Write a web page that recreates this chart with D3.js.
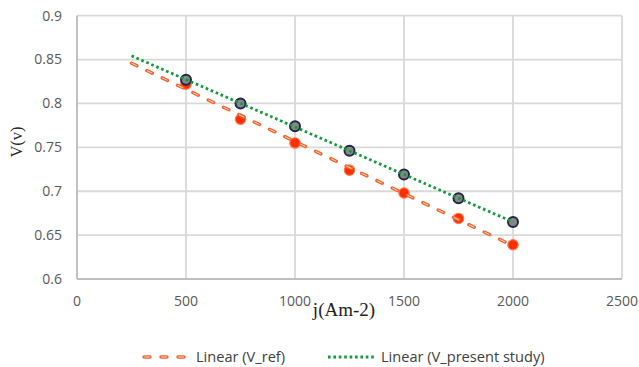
<!DOCTYPE html>
<html><head><meta charset="utf-8">
<script src="https://cdn.jsdelivr.net/npm/d3@7"></script>
<style>body{margin:0;background:#fff}svg{display:block}</style>
</head><body><svg id="c" width="639" height="367"></svg>
<script>
const jValues = [500, 750, 1000, 1250, 1500, 1750, 2000];
const vRef = [0.822, 0.782, 0.755, 0.724, 0.698, 0.669, 0.639];
const vPresent = [0.827, 0.800, 0.774, 0.746, 0.719, 0.692, 0.665];
const xTicks = [0, 500, 1000, 1500, 2000, 2500];
const yTicks = [0.6, 0.65, 0.7, 0.75, 0.8, 0.85, 0.9];
const trendStart = 250;
const legendLabels = ["Linear (V_ref)", "Linear (V_present study)"];

const svg = d3.select("#c");
const x = d3.scaleLinear().domain([0, 2500]).range([77, 622]);
const y = d3.scaleLinear().domain([0.6, 0.9]).range([279, 15.7]);
const grid = "#d9d9d9";

// gridlines
svg.append("g").selectAll("line").data(yTicks).join("line")
  .attr("x1", x(0)).attr("x2", x(2500)).attr("y1", d=>y(d)).attr("y2", d=>y(d))
  .attr("stroke", grid).attr("stroke-width", 1.8);
svg.append("g").selectAll("line").data(xTicks).join("line")
  .attr("y1", y(0.6)).attr("y2", y(0.9)).attr("x1", d=>x(d)).attr("x2", d=>x(d))
  .attr("stroke", grid).attr("stroke-width", 1.8);
// axes lines
svg.append("line").attr("x1", x(0)).attr("x2", x(0)).attr("y1", y(0.6)).attr("y2", y(0.9))
  .attr("stroke", "#bfbfbf").attr("stroke-width", 1.8);
svg.append("line").attr("x1", x(0)).attr("x2", x(2500)).attr("y1", y(0.6)).attr("y2", y(0.6))
  .attr("stroke", "#bfbfbf").attr("stroke-width", 1.8);

// tick labels
const tickFont = "'Open Sans', 'Noto Sans', sans-serif";
svg.append("g").selectAll("text").data(yTicks).join("text")
  .attr("x", 62).attr("y", d=>y(d)).attr("dy", "0.35em").attr("text-anchor", "end")
  .attr("font-family", tickFont).attr("font-size", 14).attr("fill", "#595959")
  .text(d=>d3.format("")(d));
svg.append("g").selectAll("text").data(xTicks).join("text")
  .attr("x", d=>x(d)).attr("y", 301).attr("dy", "0.35em").attr("text-anchor", "middle")
  .attr("font-family", tickFont).attr("font-size", 14).attr("fill", "#595959")
  .text(d=>d);

// axis titles
svg.append("text").attr("transform", "translate(22,142) rotate(-90)")
  .attr("text-anchor", "middle").attr("font-family", "'Liberation Serif', serif")
  .attr("font-size", 16.5).attr("fill", "#222").text("V(v)");
svg.append("text").attr("x", 344).attr("y", 316)
  .attr("text-anchor", "middle").attr("font-family", "'Liberation Serif', serif")
  .attr("font-size", 19).attr("fill", "#222").text("j(Am-2)");

// regression
function fit(xs, ys) {
  const mx = d3.mean(xs), my = d3.mean(ys);
  let num = 0, den = 0;
  xs.forEach((v,i)=>{ num += (v-mx)*(ys[i]-my); den += (v-mx)*(v-mx); });
  const b = num/den; const a = my - b*mx;
  return t => a + b*t;
}
const fRef = fit(jValues, vRef), fPre = fit(jValues, vPresent);
const xEnd = d3.max(jValues);

// markers
svg.append("g").selectAll("circle").data(jValues).join("circle")
  .attr("cx", d=>x(d)).attr("cy", (d,i)=>y(vRef[i])).attr("r", 5.2)
  .attr("fill", "#ff2d00").attr("stroke", "#ff7a4a").attr("stroke-width", 1.2);
svg.append("g").selectAll("circle").data(jValues).join("circle")
  .attr("cx", d=>x(d)).attr("cy", (d,i)=>y(vPresent[i])).attr("r", 5)
  .attr("fill", "#878787").attr("stroke", "#1f2745").attr("stroke-width", 2);

// trend lines
function drawRef(g, x1, y1, x2, y2) {
  g.append("line").attr("x1", x1).attr("y1", y1).attr("x2", x2).attr("y2", y2)
    .attr("stroke", "#f0652f").attr("stroke-width", 3.4).attr("stroke-linecap", "round")
    .attr("stroke-dasharray", "6,11");
  g.append("line").attr("x1", x1).attr("y1", y1).attr("x2", x2).attr("y2", y2)
    .attr("stroke", "#fbd0bb").attr("stroke-width", 1).attr("stroke-linecap", "round")
    .attr("stroke-dasharray", "5,12").attr("stroke-dashoffset", -0.5);
}
function drawPre(g, x1, y1, x2, y2) {
  g.append("line").attr("x1", x1).attr("y1", y1).attr("x2", x2).attr("y2", y2)
    .attr("stroke", "#119a3a").attr("stroke-width", 2.8)
    .attr("stroke-dasharray", "2.6,2.8");
}
const tg = svg.append("g");
drawRef(tg, x(trendStart), y(fRef(trendStart)), x(xEnd), y(fRef(xEnd)));
drawPre(tg, x(trendStart), y(fPre(trendStart)), x(xEnd), y(fPre(xEnd)));

// legend
const lg = svg.append("g");
drawRef(lg, 144, 357, 191, 357);
drawPre(lg, 328, 357, 376, 357);
lg.append("text").attr("x", 196).attr("y", 357).attr("dy", "0.35em")
  .attr("font-family", tickFont).attr("font-size", 14.6).attr("fill", "#404040").text(legendLabels[0]);
lg.append("text").attr("x", 381).attr("y", 357).attr("dy", "0.35em")
  .attr("font-family", tickFont).attr("font-size", 14.6).attr("fill", "#404040").text(legendLabels[1]);
</script></body></html>
